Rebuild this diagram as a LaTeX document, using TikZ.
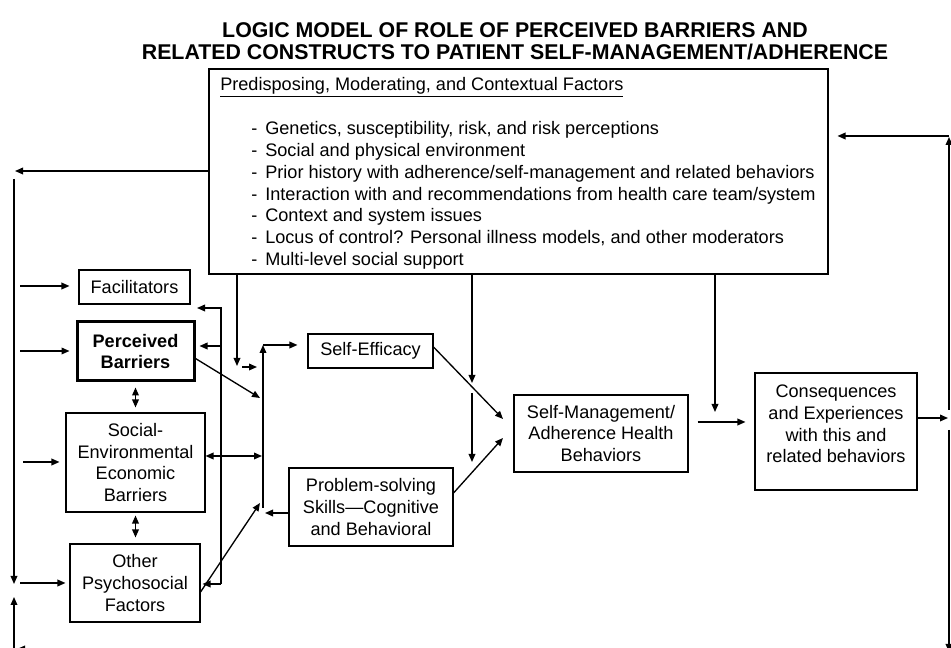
\documentclass[tikz,border=0pt]{standalone}
\usepackage{fontspec}
\setmainfont{Liberation Sans}
\usetikzlibrary{arrows.meta}
\newcommand\diagfont{\fontsize{13.6pt}{16.35pt}\selectfont}
\newcommand\headfont{\fontsize{16pt}{19pt}\selectfont\bfseries}
\newcommand\dashitem{\makebox[10.5pt][l]{-}}
\begin{document}
\begin{tikzpicture}[x=0.75pt,y=-0.75pt,
  >={Triangle[length=6pt,width=5pt]},
  arr/.style={->,line width=1pt},
  darr/.style={<->,line width=1pt},
  box/.style={draw,line width=0.8pt,inner sep=0pt,align=center,font=\diagfont},
  txt/.style={font=\diagfont,inner sep=0pt}]
\useasboundingbox (0,0) rectangle (951,648);
\clip (0,0) rectangle (951,648);

% title
\node[font=\headfont] (t1) at (515,30) {LOGIC MODEL OF ROLE OF PERCEIVED BARRIERS AND};
\node[font=\headfont] (t2) at (515,52) {RELATED CONSTRUCTS TO PATIENT SELF-MANAGEMENT/ADHERENCE};

% context box
\node[box,minimum width=464.25pt,minimum height=153.75pt] (ctx) at (518.5,171.5) {};
\node[txt,anchor=west] (ctxhead) at (220,87) {\underline{Predisposing, Moderating, and Contextual Factors}};
\node[txt,anchor=west,align=left] (ctxlist) at (251,195.5) {%
\dashitem Genetics, susceptibility, risk, and risk perceptions\\
\dashitem Social and physical environment\\
\dashitem Prior history with adherence/self-management and related behaviors\\
\dashitem Interaction with and recommendations from health care team/system\\
\dashitem Context and system issues\\
\dashitem Locus of control? Personal illness models, and other moderators\\
\dashitem Multi-level social support};

% left column
\node[box,minimum width=83.25pt,minimum height=25.5pt] (fac) at (134.5,287) {Facilitators};
\node[box,line width=2.25pt,font=\diagfont\bfseries,minimum width=87.75pt,minimum height=44.25pt] (pb) at (135.5,351.5) {Perceived\\Barriers};
\node[box,minimum width=104.25pt,minimum height=74.25pt] (see) at (135.5,462.5) {Social-\\Environmental\\Economic\\Barriers};
\node[box,minimum width=97.5pt,minimum height=58.5pt] (oth) at (135,583) {Other\\Psychosocial\\Factors};

% middle and right
\node[box,minimum width=93.75pt,minimum height=25.5pt] (se) at (370.5,351) {Self-Efficacy};
\node[box,minimum width=123pt,minimum height=58.5pt] (ps) at (371,507) {Problem-solving\\Skills—Cognitive\\and Behavioral};
\node[box,minimum width=130.5pt,minimum height=57.75pt] (sm) at (601,433.5) {Self-Management/\\Adherence Health\\Behaviors};
\node[box,minimum width=121.5pt,minimum height=87.75pt] (cons) at (836,431.5) {};
\node[txt,align=center] (conslbl) at (836,424) {Consequences\\and Experiences\\with this and\\related behaviors};

% inputs from the left margin
\coordinate (inFac) at (20,286);
\coordinate (inPb) at (20,351);
\coordinate (inSee) at (23,462);
\coordinate (inOth) at (20,583);
\draw[arr,shorten >=6.75pt] (inFac) -- (inFac -| fac.west);
\draw[arr,shorten >=4.5pt] (inPb) -- (inPb -| pb.west);
\draw[arr,shorten >=4.5pt] (inSee) -- (inSee -| see.west);
\draw[arr,shorten >=3pt] (inOth) -- (inOth -| oth.west);

% left feedback loop
\coordinate (lTopEnd) at (15,171);
\coordinate (lRailTop) at (14,179);
\coordinate (lRailBot) at (14,584);
\coordinate (lLowTip) at (14,597);
\coordinate (lLowFoot) at (14,649);
\coordinate (lFootTip) at (17,649);
\coordinate (lFootEnd) at (60,649);
\draw[arr] (ctx.west |- lTopEnd) -- (lTopEnd);
\draw[arr] (lRailTop) -- (lRailBot);
\draw[arr] (lLowFoot) -- (lLowTip);
\draw[arr] (lFootEnd) -- (lFootTip);

% right feedback loop
\coordinate (rIn) at (948,418);
\coordinate (rUpBot) at (949,410);
\coordinate (rUpTop) at (949,137);
\coordinate (rTopRow) at (949,136);
\coordinate (rDnTop) at (949,430);
\coordinate (rDnBot) at (949,652);
\draw[arr] (cons.east |- rIn) -- (rIn);
\draw[arr] (rUpBot) -- (rUpTop);
\draw[arr,shorten >=6.75pt] (rTopRow) -- (ctx.east |- rTopRow);
\draw[arr] (rDnTop) -- (rDnBot);

% drops from the context box
\coordinate (d1) at (237,366);
\coordinate (d1a) at (242,367);
\coordinate (d1b) at (257,367);
\coordinate (d2) at (472,383);
\coordinate (d2a) at (472,393);
\coordinate (d2b) at (472,462);
\coordinate (d3) at (715,412);
\draw[arr] (ctx.south -| d1) -- (d1);
\draw[arr] (d1a) -- (d1b);
\draw[arr] (ctx.south -| d2) -- (d2);
\draw[arr] (d2a) -- (d2b);
\draw[arr] (ctx.south -| d3) -- (d3);

% behaviour to consequences
\coordinate (smRow) at (700,422);
\draw[arr,shorten <=6.75pt,shorten >=6.75pt] (sm.east |- smRow) -- (cons.west |- smRow);

% collecting bus in front of self-efficacy
\coordinate (busBot) at (263,508);
\coordinate (busTop) at (263,345);
\coordinate (busPb) at (260,398);
\coordinate (busSee) at (262,456);
\coordinate (busPs) at (265,513);
\coordinate (busOth) at (260,503);
\draw[arr] (busBot) -- (busTop);
\draw[arr,shorten >=7.5pt] (busTop) -- (se.west |- busTop);
\draw[arr] ([yshift=-5.25pt]pb.east) -- (busPb);
\draw[darr] (see.east |- busSee) -- (busSee);
\draw[arr] (ps.west |- busPs) -- (busPs);
\draw[arr] ([yshift=-6.75pt]oth.east) -- (busOth);

% rail returning to the left column
\coordinate (railTop) at (221,308);
\coordinate (railPb) at (221,346);
\coordinate (railBot) at (221,584);
\coordinate (facTip) at (197,308);
\draw[arr] (railBot) -- (railTop) -- (facTip);
\draw[arr,shorten >=3pt] (railPb) -- (pb.east |- railPb);
\draw[arr,shorten >=1.5pt] (railBot) -- (oth.east |- railBot);

% links within the left column
\draw[darr,shorten <=3.75pt,shorten >=3.75pt] (pb.south) -- (see.north);
\draw[darr,shorten <=2.25pt,shorten >=4.5pt] (see.south) -- (see.south |- oth.north);

% into self-management
\coordinate (smIn1) at (503,419);
\coordinate (smIn2) at (503,438);
\draw[arr] (se.east |- 0,347) -- (smIn1);
\draw[arr] (ps.east |- 0,493) -- (smIn2);
\end{tikzpicture}
\end{document}
